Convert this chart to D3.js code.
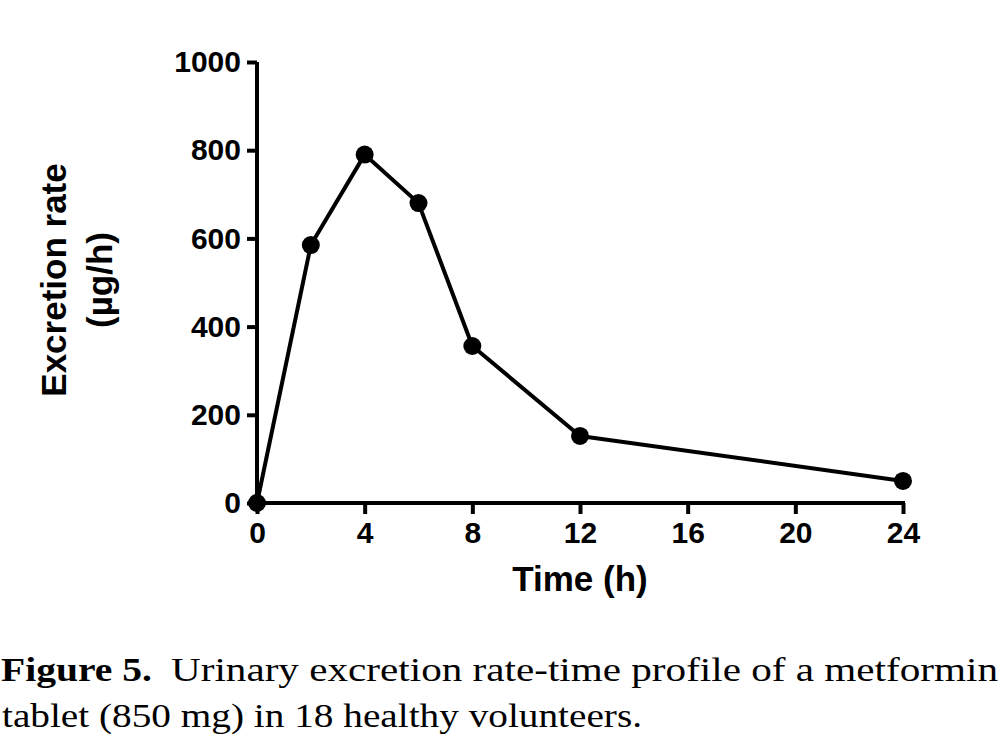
<!DOCTYPE html>
<html><head><meta charset="utf-8">
<script src="https://cdn.jsdelivr.net/npm/d3@7/dist/d3.min.js"></script>
<style>body{margin:0;background:#fff}svg{display:block}</style>
</head><body>
<svg id="c" width="1004" height="750"></svg>
<script>
const times = [0, 2, 4, 6, 8, 12, 24];
const rates = [0, 585, 790, 680, 356, 152, 50];
const xTicks = [0, 4, 8, 12, 16, 20, 24];
const yTicks = [0, 200, 400, 600, 800, 1000];
const xTitle = "Time (h)";
const yTitle = ["Excretion rate", "(µg/h)"];
const caption1Bold = "Figure 5.";
const caption1 = "Urinary excretion rate-time profile of a metformin";
const caption2 = "tablet (850 mg) in 18 healthy volunteers.";

const svg = d3.select("#c");
const x = d3.scaleLinear().domain([0, 24]).range([257, 903]);
const y = d3.scaleLinear().domain([0, 1000]).range([503, 62]);
const sans = "Liberation Sans, Arial, sans-serif";

// axes
const yAxis = svg.append("g").attr("transform", `translate(${x(0)},0)`)
  .call(d3.axisLeft(y).tickValues(yTicks).tickFormat(d3.format("d")).tickSize(10).tickPadding(6).tickSizeOuter(0));
const xAxis = svg.append("g").attr("transform", `translate(0,${y(0)})`)
  .call(d3.axisBottom(x).tickValues(xTicks).tickFormat(d3.format("d")).tickSize(11).tickPadding(8).tickSizeOuter(0));
[yAxis, xAxis].forEach(a => {
  a.select(".domain").attr("stroke", "#000").attr("stroke-width", 4);
  a.selectAll(".tick line").attr("stroke", "#000").attr("stroke-width", 4);
  a.selectAll(".tick text").attr("fill", "#000").style("font-family", sans)
    .style("font-weight", "bold").style("font-size", "30px");
});
yAxis.select(".domain").attr("d", `M0,${y(1000)}V${y(0)+2}`);
xAxis.select(".domain").attr("d", `M${x(0)-2},0H${x(24)+2}`);

// line
const line = d3.line().x((d, i) => x(times[i])).y(d => y(d));
svg.append("path").datum(rates).attr("d", line)
  .attr("fill", "none").attr("stroke", "#000").attr("stroke-width", 4)
  .attr("stroke-linejoin", "round");
svg.selectAll("circle.pt").data(rates).join("circle").attr("class", "pt")
  .attr("cx", (d, i) => x(times[i])).attr("cy", d => y(d)).attr("r", 9).attr("fill", "#000");

// titles
svg.append("text").attr("x", 580).attr("y", 591).attr("text-anchor", "middle")
  .style("font-family", sans).style("font-weight", "bold").style("font-size", "35px")
  .text(xTitle);
const yt = svg.append("text").attr("transform", "translate(0,280) rotate(-90)")
  .attr("text-anchor", "middle").style("font-family", sans)
  .style("font-weight", "bold").style("font-size", "35px");
yt.append("tspan").attr("x", 0).attr("y", 66).text(yTitle[0]);
yt.append("tspan").attr("x", 0).attr("y", 112).text(yTitle[1]);

// caption
const serif = "Liberation Serif, Times New Roman, Tinos, serif";
svg.append("text").attr("x", 1).attr("y", 681)
  .attr("textLength", 151).attr("lengthAdjust", "spacingAndGlyphs")
  .style("font-family", serif).style("font-size", "33px").style("font-weight", "bold")
  .attr("fill", "#000").text(caption1Bold);
svg.append("text").attr("x", 171).attr("y", 681)
  .attr("textLength", 827).attr("lengthAdjust", "spacingAndGlyphs")
  .style("font-family", serif).style("font-size", "33px").attr("fill", "#000")
  .text(caption1);
svg.append("text").attr("x", 2).attr("y", 727)
  .attr("textLength", 640).attr("lengthAdjust", "spacingAndGlyphs")
  .style("font-family", serif).style("font-size", "33px").attr("fill", "#000")
  .text(caption2);
</script>
</body></html>
